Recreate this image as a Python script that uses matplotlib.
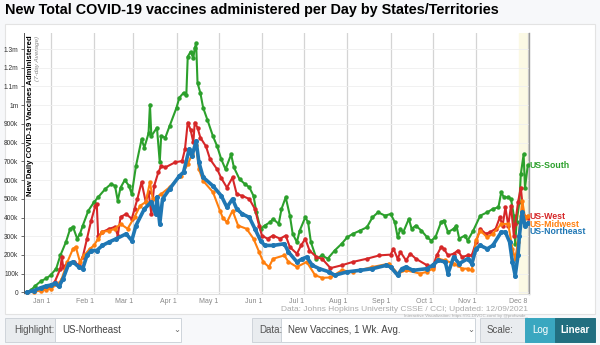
import numpy as np
import pandas as pd
import matplotlib
matplotlib.use('Agg')
import matplotlib.pyplot as plt
from matplotlib.patches import Rectangle

plt.rcParams['font.family'] = ['Liberation Sans', 'DejaVu Sans']

# --- data (7-day avg, doses/day, in thousands) ---
south_dates = ['2020-12-15', '2020-12-18', '2020-12-21', '2020-12-25', '2020-12-29', '2021-01-01', '2021-01-05',
               '2021-01-08', '2021-01-12', '2021-01-15', '2021-01-17', '2021-01-20', '2021-01-22', '2021-01-24',
               '2021-01-28', '2021-02-01', '2021-02-04', '2021-02-09', '2021-02-13', '2021-02-16', '2021-02-18',
               '2021-02-20', '2021-02-23', '2021-02-26', '2021-02-28', '2021-03-03', '2021-03-07', '2021-03-09',
               '2021-03-12', '2021-03-13', '2021-03-14', '2021-03-18', '2021-03-20', '2021-03-21', '2021-03-24',
               '2021-03-27', '2021-04-01', '2021-04-03', '2021-04-06', '2021-04-08', '2021-04-09', '2021-04-11',
               '2021-04-13', '2021-04-14', '2021-04-15', '2021-04-16', '2021-04-18', '2021-04-20', '2021-04-23',
               '2021-04-27', '2021-04-30', '2021-05-03', '2021-05-06', '2021-05-10', '2021-05-12', '2021-05-16',
               '2021-05-20', '2021-05-23', '2021-05-26', '2021-05-28', '2021-05-31', '2021-06-03', '2021-06-07',
               '2021-06-09', '2021-06-13', '2021-06-15', '2021-06-18', '2021-06-21', '2021-06-23', '2021-06-26',
               '2021-06-28', '2021-07-02', '2021-07-04', '2021-07-06', '2021-07-10', '2021-07-14', '2021-07-18',
               '2021-07-23', '2021-07-28', '2021-08-01', '2021-08-05', '2021-08-10', '2021-08-15', '2021-08-19',
               '2021-08-23', '2021-08-28', '2021-09-01', '2021-09-04', '2021-09-06', '2021-09-08', '2021-09-10',
               '2021-09-14', '2021-09-16', '2021-09-19', '2021-09-23', '2021-09-27', '2021-09-30', '2021-10-03',
               '2021-10-07', '2021-10-09', '2021-10-12', '2021-10-16', '2021-10-18', '2021-10-20', '2021-10-24',
               '2021-10-26', '2021-10-30', '2021-11-04', '2021-11-09', '2021-11-13', '2021-11-17', '2021-11-19',
               '2021-11-21', '2021-11-24', '2021-11-26', '2021-11-28', '2021-11-29', '2021-11-30', '2021-12-02',
               '2021-12-03', '2021-12-05', '2021-12-06', '2021-12-08']
south_vals = [0, 12, 35, 60, 75, 92, 127, 198, 270, 340, 350, 287, 313, 357, 437, 482, 509, 552, 578, 570, 490,
              560, 600, 570, 525, 675, 817, 774, 850, 1003, 835, 880, 695, 835, 827, 888, 987, 1040, 1066, 1056,
              1259, 1285, 1252, 1305, 1331, 1119, 1066, 987, 923, 835, 781, 711, 658, 737, 668, 605, 578, 562, 516,
              430, 340, 357, 376, 393, 366, 446, 508, 410, 313, 269, 330, 401, 375, 269, 180, 198, 180, 224, 260,
              295, 313, 330, 348, 401, 428, 410, 419, 375, 295, 340, 322, 393, 340, 357, 330, 295, 277, 295, 375,
              384, 322, 340, 357, 287, 304, 277, 330, 410, 428, 446, 455, 534, 508, 508, 499, 410, 260, 376, 483,
              631, 737, 560, 680]

west_dates = ['2020-12-15', '2020-12-20', '2020-12-25', '2020-12-29', '2021-01-01', '2021-01-04', '2021-01-08',
              '2021-01-09', '2021-01-10', '2021-01-13', '2021-01-18', '2021-01-21', '2021-01-24', '2021-01-27',
              '2021-01-30', '2021-02-02', '2021-02-03', '2021-02-04', '2021-02-07', '2021-02-12', '2021-02-16',
              '2021-02-18', '2021-02-20', '2021-02-24', '2021-02-28', '2021-03-02', '2021-03-04', '2021-03-07',
              '2021-03-10', '2021-03-12', '2021-03-14', '2021-03-16', '2021-03-19', '2021-03-21', '2021-03-24',
              '2021-03-31', '2021-04-05', '2021-04-07', '2021-04-09', '2021-04-11', '2021-04-13', '2021-04-14',
              '2021-04-16', '2021-04-18', '2021-04-22', '2021-04-25', '2021-04-30', '2021-05-03', '2021-05-07',
              '2021-05-11', '2021-05-14', '2021-05-18', '2021-05-23', '2021-05-27', '2021-05-30', '2021-06-01',
              '2021-06-05', '2021-06-09', '2021-06-14', '2021-06-18', '2021-06-21', '2021-06-26', '2021-06-29',
              '2021-07-02', '2021-07-05', '2021-07-10', '2021-07-14', '2021-07-20', '2021-07-28', '2021-08-05',
              '2021-08-15', '2021-08-24', '2021-09-01', '2021-09-03', '2021-09-06', '2021-09-08', '2021-09-12',
              '2021-09-15', '2021-09-19', '2021-09-27', '2021-10-01', '2021-10-04', '2021-10-07', '2021-10-09',
              '2021-10-12', '2021-10-16', '2021-10-19', '2021-10-22', '2021-10-26', '2021-10-29', '2021-11-01',
              '2021-11-04', '2021-11-08', '2021-11-11', '2021-11-15', '2021-11-18', '2021-11-20', '2021-11-22',
              '2021-11-24', '2021-11-26', '2021-11-28', '2021-11-29', '2021-12-01', '2021-12-03', '2021-12-05',
              '2021-12-08']
west_vals = [0, 8, 15, 25, 32, 57, 127, 190, 137, 154, 163, 145, 190, 287, 384, 463, 472, 300, 323, 340, 350, 304,
             403, 419, 393, 446, 499, 589, 483, 536, 419, 569, 642, 675, 668, 695, 702, 764, 907, 870, 801, 907,
             880, 827, 781, 711, 658, 610, 560, 614, 525, 516, 499, 446, 357, 304, 287, 304, 287, 304, 242, 207,
             251, 287, 224, 189, 180, 130, 145, 163, 180, 198, 202, 233, 180, 216, 171, 207, 180, 145, 136, 198,
             242, 233, 198, 207, 224, 189, 198, 198, 269, 340, 313, 322, 340, 401, 357, 455, 357, 463, 304, 366,
             481, 560, 410, 395]

midwest_dates = ['2020-12-15', '2020-12-20', '2020-12-25', '2020-12-29', '2021-01-01', '2021-01-07', '2021-01-09',
                 '2021-01-13', '2021-01-17', '2021-01-19', '2021-01-22', '2021-01-25', '2021-01-29', '2021-02-01',
                 '2021-02-04', '2021-02-07', '2021-02-12', '2021-02-16', '2021-02-20', '2021-02-25', '2021-03-02',
                 '2021-03-06', '2021-03-10', '2021-03-13', '2021-03-15', '2021-03-21', '2021-03-27', '2021-04-04',
                 '2021-04-09', '2021-04-12', '2021-04-15', '2021-04-17', '2021-04-20', '2021-04-27', '2021-05-02',
                 '2021-05-04', '2021-05-07', '2021-05-11', '2021-05-15', '2021-05-21', '2021-05-26', '2021-05-30',
                 '2021-06-02', '2021-06-06', '2021-06-09', '2021-06-17', '2021-06-20', '2021-06-26', '2021-07-03',
                 '2021-07-09', '2021-07-14', '2021-07-20', '2021-07-28', '2021-08-05', '2021-08-19', '2021-08-31',
                 '2021-09-06', '2021-09-12', '2021-09-22', '2021-09-27', '2021-10-01', '2021-10-05', '2021-10-10',
                 '2021-10-16', '2021-10-19', '2021-10-22', '2021-10-26', '2021-10-29', '2021-11-01', '2021-11-04',
                 '2021-11-09', '2021-11-13', '2021-11-19', '2021-11-24', '2021-11-27', '2021-11-29', '2021-12-01',
                 '2021-12-03', '2021-12-04', '2021-12-06', '2021-12-08']
midwest_vals = [0, 5, 10, 15, 21, 48, 74, 163, 233, 243, 163, 198, 233, 251, 287, 323, 330, 340, 366, 340, 403,
                463, 483, 589, 499, 525, 562, 622, 684, 737, 790, 658, 596, 536, 437, 400, 375, 437, 357, 340, 287,
                216, 163, 136, 180, 198, 163, 136, 163, 92, 78, 80, 118, 110, 136, 154, 101, 118, 101, 110, 127,
                180, 171, 154, 145, 127, 127, 118, 280, 330, 295, 313, 366, 366, 233, 180, 269, 410, 490, 400, 410]

northeast_dates = ['2020-12-15', '2020-12-20', '2020-12-25', '2020-12-29', '2021-01-01', '2021-01-04', '2021-01-07',
                   '2021-01-10', '2021-01-14', '2021-01-17', '2021-01-21', '2021-01-24', '2021-01-27', '2021-01-30',
                   '2021-02-03', '2021-02-07', '2021-02-12', '2021-02-17', '2021-02-24', '2021-02-28', '2021-03-03',
                   '2021-03-09', '2021-03-14', '2021-03-17', '2021-03-18', '2021-03-20', '2021-03-22', '2021-03-27',
                   '2021-04-03', '2021-04-06', '2021-04-10', '2021-04-12', '2021-04-15', '2021-04-17', '2021-04-20',
                   '2021-04-27', '2021-05-03', '2021-05-07', '2021-05-11', '2021-05-14', '2021-05-18', '2021-05-23',
                   '2021-05-27', '2021-05-31', '2021-06-03', '2021-06-09', '2021-06-17', '2021-06-20', '2021-06-26',
                   '2021-06-30', '2021-07-03', '2021-07-07', '2021-07-12', '2021-07-19', '2021-07-23', '2021-08-01',
                   '2021-08-10', '2021-08-19', '2021-08-29', '2021-09-01', '2021-09-06', '2021-09-09', '2021-09-12',
                   '2021-09-17', '2021-09-27', '2021-10-01', '2021-10-05', '2021-10-10', '2021-10-12', '2021-10-16',
                   '2021-10-20', '2021-10-26', '2021-10-29', '2021-11-01', '2021-11-04', '2021-11-09', '2021-11-13',
                   '2021-11-19', '2021-11-22', '2021-11-25', '2021-11-27', '2021-11-29', '2021-12-01', '2021-12-02',
                   '2021-12-04', '2021-12-06', '2021-12-08']
northeast_vals = [0, 10, 25, 35, 39, 48, 32, 74, 154, 163, 137, 127, 198, 224, 224, 251, 270, 287, 313, 277, 357,
                  446, 483, 419, 509, 366, 499, 552, 622, 642, 764, 728, 808, 695, 615, 569, 516, 455, 499, 446, 419,
                  401, 340, 277, 251, 251, 260, 216, 163, 180, 189, 145, 127, 110, 92, 110, 118, 127, 145, 136, 92,
                  127, 136, 118, 127, 145, 171, 163, 101, 189, 154, 180, 154, 233, 251, 233, 251, 322, 322, 269, 163,
                  90, 198, 304, 428, 357, 370]

series_names = ['US-South', 'US-West', 'US-Midwest', 'US-Northeast']
series_colors = ['#2ca02c', '#d62728', '#ff7f0e', '#1f77b4']
label_y_k = [680, 405, 365, 325]   # where the end labels sit (k doses)

month_ticks = ['2021-01-01', '2021-02-01', '2021-03-01', '2021-04-01', '2021-05-01', '2021-06-01',
               '2021-07-01', '2021-08-01', '2021-09-01', '2021-10-01', '2021-11-01', '2021-12-08']
month_labels = ['Jan 1', 'Feb 1', 'Mar 1', 'Apr 1', 'May 1', 'Jun 1', 'Jul 1', 'Aug 1', 'Sep 1', 'Oct 1',
                'Nov 1', 'Dec 8']
y_ticks = np.arange(0, 1300001, 100000)
y_labels = ['0', '100k', '200k', '300k', '400k', '500k', '600k', '700k', '800k', '900k', '1m', '1.1m', '1.2m', '1.3m']

series = [(south_dates, south_vals), (west_dates, west_vals), (midwest_dates, midwest_vals),
          (northeast_dates, northeast_vals)]

fig = plt.figure(figsize=(6, 3.45), dpi=100, facecolor='#f7f8fa')
# white chart panel behind the axes
fig.patches.append(Rectangle((0.008, 0.09), 0.984, 0.84, transform=fig.transFigure,
                             facecolor='white', edgecolor='#e3e3e3', lw=0.8, zorder=-5))
ax = fig.add_axes([0.04, 0.148, 0.842, 0.756])
ax.set_zorder(2)
ax.set_facecolor('white')

x0 = pd.Timestamp('2020-12-13')
x1 = pd.Timestamp('2021-12-09')
ax.axvspan(pd.Timestamp('2021-12-02'), pd.Timestamp('2021-12-08'), color='#fbf9e4', zorder=0)

for i, ((d, v), c) in enumerate(zip(series, series_colors)):
    hl = series_names[i] == 'US-Northeast'
    ax.plot(pd.to_datetime(d), np.array(v) * 1000, color=c, lw=2.6 if hl else 1.5,
            marker='o', ms=2.6 if hl else 2.2, zorder=5 if hl else 3)
    ax.text(pd.to_datetime(d[-1]) + pd.Timedelta(days=1.5), label_y_k[i] * 1000, series_names[i],
            color=c, fontsize=6.3, fontweight='bold', va='center', ha='left', clip_on=False)

ax.set_xlim(x0, x1)
ax.set_ylim(-8000, 1385000)
ax.set_yticks(y_ticks)
ax.set_yticklabels(y_labels)
ax.set_xticks(pd.to_datetime(month_ticks))
ax.set_xticklabels(month_labels)
for lab in ax.get_xticklabels():
    lab.set_horizontalalignment('right')
ax.tick_params(axis='y', labelsize=4.8, length=2.5, width=0.6, color='#555', pad=1.5, labelcolor='#333')
ax.tick_params(axis='x', labelsize=5, length=0, pad=3, labelcolor='#888')
ax.grid(axis='y', color='#efefef', lw=0.6)
ax.grid(axis='x', color='#d4d4d4', lw=0.9)
ax.set_axisbelow(True)
ax.spines['top'].set_visible(False)
ax.spines['right'].set_color('#999')
ax.spines['right'].set_linewidth(1.0)
ax.spines['left'].set_color('#555')
ax.spines['left'].set_linewidth(0.7)
ax.spines['bottom'].set_color('#e0e0e0')

ax.text(0.006, 0.99, 'New Daily COVID-19 Vaccines Administered', transform=ax.transAxes, rotation=90,
        fontsize=5.6, fontweight='bold', va='top', ha='left')
ax.text(0.022, 0.99, '(7-day Average)', transform=ax.transAxes, rotation=90,
        fontsize=4.6, style='italic', color='#888', va='top', ha='left')

fig.text(0.008, 0.97, 'New Total COVID-19 vaccines administered per Day by States/Territories',
         fontsize=10.4, fontweight='bold', va='center', ha='left')
fig.text(0.88, 0.103, 'Data: Johns Hopkins University CSSE / CCI; Updated: 12/09/2021',
         fontsize=6, color='#aaa', ha='right', va='center')
fig.text(0.88, 0.083, 'Interactive Visualization: https://91-DIVOC.com/ by @profwade_',
         fontsize=3.2, color='#aaa', ha='right', va='center')

# control bar under the chart
def box(x, w, fc, ec='#ced4da'):
    fig.patches.append(Rectangle((x / 600, 1 - 342 / 345), w / 600, 24 / 345, transform=fig.transFigure,
                                 facecolor=fc, edgecolor=ec, lw=0.7))

ybar = 1 - 330 / 345
box(5, 50, '#e9ecef'); box(55, 126, 'white')
fig.text(14 / 600, ybar, 'Highlight:', fontsize=7, color='#555', va='center')
fig.text(62 / 600, ybar, 'US-Northeast', fontsize=7, color='#444', va='center')
fig.text(173 / 600, ybar, '⌄', fontsize=6, color='#666', va='center', family='DejaVu Sans')
box(252, 29, '#e9ecef'); box(281, 194, 'white')
fig.text(259 / 600, ybar, 'Data:', fontsize=7, color='#555', va='center')
fig.text(288 / 600, ybar, 'New Vaccines, 1 Wk. Avg.', fontsize=7, color='#444', va='center')
fig.text(467 / 600, ybar, '⌄', fontsize=6, color='#666', va='center', family='DejaVu Sans')
box(480, 45, '#e9ecef'); box(525, 30, '#3aa7c0', '#3aa7c0'); box(555, 40, '#226f80', '#226f80')
fig.text(487 / 600, ybar, 'Scale:', fontsize=7, color='#555', va='center')
fig.text(540 / 600, ybar, 'Log', fontsize=7, color='white', va='center', ha='center')
fig.text(575 / 600, ybar, 'Linear', fontsize=7, color='white', va='center', ha='center', fontweight='bold')

fig.savefig('out.png', dpi=100, facecolor=fig.get_facecolor())
